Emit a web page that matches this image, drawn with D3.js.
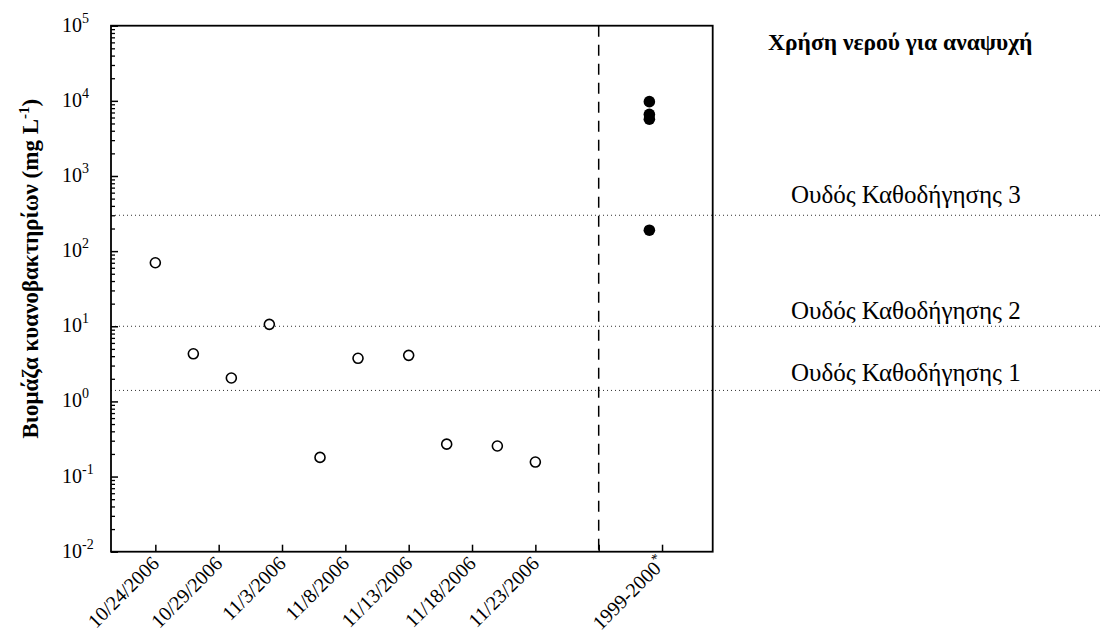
<!DOCTYPE html>
<html>
<head>
<meta charset="utf-8">
<script src="https://cdn.jsdelivr.net/npm/d3@7"></script>
<style>
body { margin: 0; background: #fff; }
</style>
</head>
<body>
<svg id="chart"></svg>
<script>
// sampling dates and cyanobacteria biomass (mg L-1)
var sampleDates = ["10/24/2006", "10/27/2006", "10/30/2006", "11/2/2006", "11/6/2006",
                   "11/9/2006", "11/13/2006", "11/16/2006", "11/20/2006", "11/23/2006"]
var biomass = [70, 4.3, 2.05, 10.6, 0.18, 3.75, 4.1, 0.27, 0.255, 0.156]

// older measurements shown in their own column
var historicLabel = "1999-2000"
var historicValues = [9750, 6600, 5700, 190]

var dateTicks = ["10/24/2006", "10/29/2006", "11/3/2006", "11/8/2006",
                 "11/13/2006", "11/18/2006", "11/23/2006"]
var yExponents = [-2, -1, 0, 1, 2, 3, 4, 5]

var guideValues = [1.4, 10, 300]
var guideLabels = ["Ουδός Καθοδήγησης 1", "Ουδός Καθοδήγησης 2", "Ουδός Καθοδήγησης 3"]

var chartTitle = "Χρήση νερού για αναψυχή"
var yTitle = "Βιομάζα κυανοβακτηρίων (mg L"

// layout
var W = 1103, H = 635
var plot = {left: 111, right: 712.7, top: 25.7, bottom: 551.7}
var parse = d3.utcParse("%m/%d/%Y")
var separatorDate = parse("11/28/2006")
var historicTickDate = parse("12/3/2006")
var historicPointDate = parse("12/2/2006")
var guideLift = [9, 7, 12]
var serif = "'Liberation Serif', 'DejaVu Serif', serif"

var svg = d3.select("#chart").attr("width", W).attr("height", H)

var xscale = d3.scaleUtc()
    .domain([new Date(Date.UTC(2006, 9, 20, 12)), new Date(Date.UTC(2006, 11, 7, 0))])
    .range([plot.left, plot.right])

var yscale = d3.scaleLog()
    .domain([0.01, 1e5])
    .range([plot.bottom, plot.top])

// guideline dotted lines, running out to the page edge
svg.append("g").selectAll("line")
    .data(guideValues)
    .enter()
    .append("line")
    .attr("x1", plot.left)
    .attr("x2", W)
    .attr("y1", function(d){return yscale(d)})
    .attr("y2", function(d){return yscale(d)})
    .attr("stroke", "#333")
    .attr("stroke-width", 1)
    .attr("stroke-dasharray", "1,3")

svg.append("g").selectAll("text")
    .data(guideValues)
    .enter()
    .append("text")
    .attr("x", 791)
    .attr("y", function(d, i){return yscale(d) - guideLift[i]})
    .style("font-family", serif)
    .style("font-size", "25px")
    .text(function(d, i){return guideLabels[i]})

// separator between campaign and older data
svg.append("line")
    .attr("x1", xscale(separatorDate))
    .attr("x2", xscale(separatorDate))
    .attr("y1", plot.top)
    .attr("y2", plot.bottom)
    .attr("stroke", "#000")
    .attr("stroke-width", 1.5)
    .attr("stroke-dasharray", "11,8")

// y axis: major and minor ticks pointing inward
var minorTicks = []
yExponents.slice(0, -1).forEach(function(e){
    for (var k = 2; k <= 9; k++) minorTicks.push(k * Math.pow(10, e))
})

var yMinor = svg.append("g")
    .attr("transform", "translate(" + plot.left + ",0)")
    .call(d3.axisLeft(yscale).tickValues(minorTicks).tickSize(-4).tickFormat(""))
yMinor.select(".domain").remove()
yMinor.selectAll("line").attr("stroke-width", 1.3)

var yMajor = svg.append("g")
    .attr("transform", "translate(" + plot.left + ",0)")
    .call(d3.axisLeft(yscale)
        .tickValues(yExponents.map(function(e){return Math.pow(10, e)}))
        .tickSize(-7)
        .tickFormat(""))
yMajor.select(".domain").remove()
yMajor.selectAll("line").attr("stroke-width", 1.5)

var yLabels = svg.append("g").selectAll("text")
    .data(yExponents)
    .enter()
    .append("text")
    .attr("x", 62)
    .attr("y", function(d){return yscale(Math.pow(10, d)) + 6})
    .style("font-family", serif)
    .style("font-size", "20px")
yLabels.append("tspan").text("10")
yLabels.append("tspan")
    .attr("dy", -9)
    .style("font-size", "14px")
    .text(function(d){return d < 0 ? "-" + (-d) : d})

// x axis ticks
var xTickDates = dateTicks.map(parse).concat([separatorDate, historicTickDate])
var xAxis = svg.append("g")
    .attr("transform", "translate(0," + plot.bottom + ")")
    .call(d3.axisBottom(xscale).tickValues(xTickDates).tickSize(-7).tickFormat(""))
xAxis.select(".domain").remove()
xAxis.selectAll("line").attr("stroke-width", 1.5)

var xLabelData = dateTicks.map(function(s){return {x: xscale(parse(s)), t: s, sup: ""}})
xLabelData.push({x: xscale(historicTickDate), t: historicLabel, sup: "*"})

var xLabels = svg.append("g").selectAll("text")
    .data(xLabelData)
    .enter()
    .append("text")
    .attr("text-anchor", "end")
    .attr("transform", function(d){
        return "translate(" + (d.x + 5) + "," + (plot.bottom + 13) + ") rotate(-45)"})
    .style("font-family", serif)
    .style("font-size", "20px")
xLabels.append("tspan").text(function(d){return d.t})
xLabels.filter(function(d){return d.sup != ""})
    .append("tspan")
    .attr("dy", -8)
    .style("font-size", "14px")
    .text(function(d){return d.sup})

// frame
svg.append("rect")
    .attr("x", plot.left)
    .attr("y", plot.top)
    .attr("width", plot.right - plot.left)
    .attr("height", plot.bottom - plot.top)
    .attr("fill", "none")
    .attr("stroke", "#000")
    .attr("stroke-width", 1.8)

// points
svg.append("g").selectAll("circle")
    .data(biomass)
    .enter()
    .append("circle")
    .attr("cx", function(d, i){return xscale(parse(sampleDates[i]))})
    .attr("cy", function(d){return yscale(d)})
    .attr("r", 5)
    .attr("fill", "#fff")
    .attr("stroke", "#000")
    .attr("stroke-width", 1.6)

svg.append("g").selectAll("circle")
    .data(historicValues)
    .enter()
    .append("circle")
    .attr("cx", xscale(historicPointDate))
    .attr("cy", function(d){return yscale(d)})
    .attr("r", 5.8)
    .attr("fill", "#000")

// titles
svg.append("text")
    .attr("x", 768)
    .attr("y", 50)
    .style("font-family", serif)
    .style("font-size", "23.5px")
    .style("font-weight", "bold")
    .text(chartTitle)

var yt = svg.append("text")
    .attr("text-anchor", "middle")
    .attr("transform", "translate(38," + ((plot.top + plot.bottom) / 2 - 20) + ") rotate(-90)")
    .style("font-family", serif)
    .style("font-size", "23px")
    .style("font-weight", "bold")
yt.append("tspan").text(yTitle)
yt.append("tspan").attr("dy", -9).style("font-size", "15px").text("-1")
yt.append("tspan").attr("dy", 9).text(")")
</script>
</body>
</html>
